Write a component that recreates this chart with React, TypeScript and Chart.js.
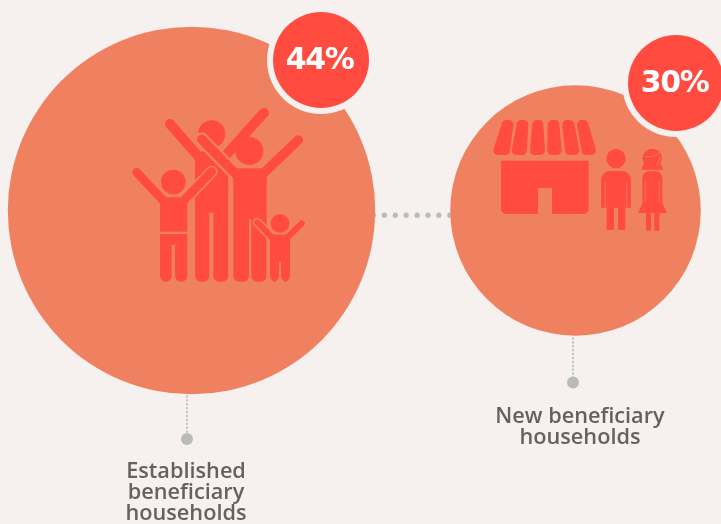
import React, { useEffect, useRef } from "react";
import { Chart, registerables } from "chart.js";

Chart.register(...registerables);

const categories = [["Established", "beneficiary", "households"], ["New beneficiary", "households"]];
const shareValues = [44, 30];
const percentLabels = ["44%", "30%"];
const groupPositions = [0, 1];

const BG = "#F6F0EE";
const BUBBLE = "#EF8160";
const RED = "#FF4B40";
const GREY = "#B9BBBB";
const TEXT = "#695F5D";
const PX_PER_GROUP = 384;
const PX_PER_POINT = 4.175;
const W = 721;
const H = 524;
const CX0 = 191.5;
const CY0 = 210.5;

const annotations = [
  { badge: [129.5, -150.5], line: [-4.5, 183, 228.5], textX: -5.5, textY: [261, 282.5, 303.5], font: 21.7 },
  { badge: [100.5, -127.5], line: [-2.5, 125, 172], textX: 4.5, textY: [206, 227], font: 21.7 },
];

type C = CanvasRenderingContext2D;

function dot(ctx: C, x: number, y: number, r: number) {
  ctx.beginPath();
  ctx.arc(x, y, r, 0, Math.PI * 2);
  ctx.fill();
}

function limb(ctx: C, x1: number, y1: number, x2: number, y2: number, w: number, color: string) {
  ctx.strokeStyle = color;
  ctx.lineWidth = w;
  ctx.lineCap = "round";
  ctx.beginPath();
  ctx.moveTo(x1, y1);
  ctx.lineTo(x2, y2);
  ctx.stroke();
}

function legs(ctx: C, l: number, r: number, gapL: number, gapR: number, top: number, crotch: number, bottom: number) {
  const rad = 17;
  ctx.beginPath();
  ctx.moveTo(l, top);
  ctx.lineTo(r, top);
  ctx.lineTo(r, bottom - rad);
  ctx.arcTo(r, bottom, r - rad, bottom, rad);
  ctx.arcTo(gapR, bottom, gapR, bottom - rad, rad);
  ctx.lineTo(gapR, crotch);
  ctx.lineTo(gapL, crotch);
  ctx.lineTo(gapL, bottom - rad);
  ctx.arcTo(gapL, bottom, gapL - rad, bottom, rad);
  ctx.arcTo(l, bottom, l, bottom - rad, rad);
  ctx.closePath();
  ctx.fill();
}

function drawFamily(ctx: C) {
  // tall parent behind
  ctx.fillStyle = RED;
  dot(ctx, 275, 132, 41);
  limb(ctx, 150, 102, 245, 210, 30, RED);
  limb(ctx, 432, 68, 305, 210, 30, RED);
  ctx.beginPath();
  ctx.moveTo(225, 205);
  ctx.lineTo(250, 180);
  ctx.lineTo(300, 180);
  ctx.lineTo(325, 205);
  ctx.lineTo(325, 300);
  ctx.lineTo(225, 300);
  ctx.fill();
  legs(ctx, 225, 325, 268, 280, 290, 368, 575);

  // front parent
  limb(ctx, 245, 148, 350, 255, 42, BUBBLE);
  ctx.fillStyle = BUBBLE;
  ctx.fillRect(326, 250, 14, 325);
  ctx.fillStyle = RED;
  dot(ctx, 388, 183, 42);
  limb(ctx, 245, 148, 350, 255, 28, RED);
  limb(ctx, 535, 150, 425, 255, 28, RED);
  ctx.fillStyle = RED;
  ctx.fillRect(340, 235, 100, 40);
  legs(ctx, 340, 440, 387, 394, 265, 388, 575);

  // older child
  limb(ctx, 275, 245, 195, 328, 36, BUBBLE);
  ctx.fillStyle = RED;
  dot(ctx, 160, 276, 37);
  limb(ctx, 50, 247, 128, 330, 26, RED);
  limb(ctx, 275, 245, 195, 328, 26, RED);
  ctx.fillStyle = RED;
  ctx.fillRect(120, 322, 82, 103);
  legs(ctx, 120, 202, 155, 165, 432, 465, 575);

  // toddler
  limb(ctx, 412, 397, 458, 445, 28, BUBBLE);
  ctx.fillStyle = BUBBLE;
  ctx.fillRect(440, 440, 10, 135);
  ctx.fillStyle = RED;
  dot(ctx, 480, 400, 28);
  limb(ctx, 412, 397, 458, 445, 18, RED);
  limb(ctx, 545, 400, 502, 442, 18, RED);
  ctx.fillStyle = RED;
  ctx.beginPath();
  ctx.rect(450, 434, 60, 40);
  ctx.fill();
  legs(ctx, 450, 510, 477, 483, 470, 515, 575);
}

const slatTop = [[65, 100], [110, 145], [157, 190], [203, 238], [247, 283], [291, 325]];
const slatBottom = [[40, 90], [95, 140], [150, 195], [202, 245], [255, 298], [305, 348]];

function drawShop(ctx: C) {
  ctx.fillStyle = RED;
  ctx.strokeStyle = RED;
  ctx.lineJoin = "round";
  ctx.lineWidth = 28;
  slatTop.forEach((t, i) => {
    const b = slatBottom[i];
    ctx.beginPath();
    ctx.moveTo(t[0] + 14, 284);
    ctx.lineTo(t[1] - 14, 284);
    ctx.lineTo(b[1] - 14, 361);
    ctx.lineTo(b[0] + 14, 361);
    ctx.closePath();
    ctx.fill();
    ctx.stroke();
  });
  // building
  ctx.beginPath();
  ctx.moveTo(63, 392);
  ctx.lineTo(326, 392);
  ctx.lineTo(326, 537);
  ctx.arcTo(326, 552, 311, 552, 15);
  ctx.lineTo(216, 552);
  ctx.lineTo(216, 474);
  ctx.lineTo(174, 474);
  ctx.lineTo(174, 552);
  ctx.lineTo(78, 552);
  ctx.arcTo(63, 552, 63, 537, 15);
  ctx.closePath();
  ctx.fill();

  // man
  dot(ctx, 408, 386, 29);
  ctx.beginPath();
  ctx.moveTo(363, 533);
  ctx.lineTo(363, 450);
  ctx.arcTo(363, 423, 390, 423, 27);
  ctx.lineTo(426, 423);
  ctx.arcTo(453, 423, 453, 450, 27);
  ctx.lineTo(453, 533);
  ctx.lineTo(436, 533);
  ctx.lineTo(436, 600);
  ctx.lineTo(414, 600);
  ctx.lineTo(414, 533);
  ctx.lineTo(402, 533);
  ctx.lineTo(402, 600);
  ctx.lineTo(380, 600);
  ctx.lineTo(380, 533);
  ctx.closePath();
  ctx.fill();
  limb(ctx, 376, 458, 376, 532, 2.5, BUBBLE);
  limb(ctx, 440, 458, 440, 532, 2.5, BUBBLE);

  // girl
  ctx.fillStyle = RED;
  dot(ctx, 517, 385, 29);
  ctx.beginPath();
  ctx.moveTo(490, 403);
  ctx.lineTo(484, 419);
  ctx.lineTo(550, 419);
  ctx.lineTo(544, 403);
  ctx.closePath();
  ctx.fill();
  ctx.beginPath();
  ctx.moveTo(487, 520);
  ctx.lineTo(487, 445);
  ctx.arcTo(487, 424, 508, 424, 20);
  ctx.lineTo(526, 424);
  ctx.arcTo(547, 424, 547, 445, 20);
  ctx.lineTo(547, 520);
  ctx.lineTo(561, 549);
  ctx.lineTo(538, 549);
  ctx.lineTo(538, 602);
  ctx.lineTo(523, 602);
  ctx.lineTo(523, 549);
  ctx.lineTo(513, 549);
  ctx.lineTo(513, 602);
  ctx.lineTo(498, 602);
  ctx.lineTo(498, 549);
  ctx.lineTo(474, 549);
  ctx.closePath();
  ctx.fill();
  limb(ctx, 496, 455, 496, 515, 2.5, BUBBLE);
  limb(ctx, 538, 455, 538, 515, 2.5, BUBBLE);
  ctx.strokeStyle = BUBBLE;
  ctx.lineWidth = 2.5;
  ctx.beginPath();
  ctx.arc(496, 375, 45, 0.1, 0.75);
  ctx.moveTo(496, 380);
  ctx.quadraticCurveTo(525, 385, 545, 362);
  ctx.stroke();
}

const overlay = {
  id: "overlay",
  beforeDatasetsDraw(chart: Chart) {
    const ctx = chart.ctx as C;
    const pts = chart.getDatasetMeta(0).data as any[];
    const [a, b] = [pts[0], pts[1]];
    // dotted link between the two circles, ends tucked under them
    ctx.save();
    ctx.fillStyle = GREY;
    const linkY = a.y + 4.7;
    for (let x = a.x + 182; x <= b.x - 125; x += 10.9) dot(ctx, x, linkY, 2.6);
    ctx.restore();
  },
  afterDatasetsDraw(chart: Chart) {
    const ctx = chart.ctx as C;
    const pts = chart.getDatasetMeta(0).data as any[];
    const [a, b] = [pts[0], pts[1]];
    ctx.save();

    // labels, leaders, badges
    pts.forEach((p, i) => {
      const an = annotations[i];
      ctx.fillStyle = GREY;
      const lx = p.x + an.line[0];
      for (let y = p.y + an.line[1] + 2; y < p.y + an.line[2] - 4; y += 3.9) ctx.fillRect(lx - 0.9, y, 1.8, 2);
      dot(ctx, lx, p.y + an.line[2], 6);

      ctx.fillStyle = BG;
      dot(ctx, p.x + an.badge[0], p.y + an.badge[1], 54);
      ctx.fillStyle = RED;
      dot(ctx, p.x + an.badge[0], p.y + an.badge[1], 48);

      ctx.fillStyle = "#FFFFFF";
      ctx.textAlign = "center";
      ctx.textBaseline = "middle";
      ctx.font = "700 30px 'DejaVu Sans'";
      (ctx as any).letterSpacing = "-1.4px";
      ctx.fillText(percentLabels[i], p.x + an.badge[0] - 1.5, p.y + an.badge[1] + 1);
      (ctx as any).letterSpacing = "0px";

      ctx.fillStyle = TEXT;
      ctx.font = `600 ${an.font}px 'Open Sans'`;
      categories[i].forEach((line, j) => {
        ctx.fillText(line, p.x + an.textX, p.y + an.textY[j]);
      });
    });

    // icons, drawn in 3x local units anchored to each circle
    ctx.save();
    ctx.translate(a.x - 71.5, a.y - 120.5);
    ctx.scale(1 / 3, 1 / 3);
    drawFamily(ctx);
    ctx.restore();

    ctx.save();
    ctx.translate(b.x - 95.5, b.y - 180.5);
    ctx.scale(1 / 3, 1 / 3);
    drawShop(ctx);
    ctx.restore();

    ctx.restore();
  },
};

export default function App() {
  const ref = useRef<HTMLCanvasElement>(null);
  useEffect(() => {
    const xMin = -CX0 / PX_PER_GROUP;
    const chart = new Chart(ref.current!, {
      type: "bubble",
      data: {
        datasets: [
          {
            label: "Share of households",
            data: groupPositions.map((x, i) => ({ x, y: 0, r: shareValues[i] * PX_PER_POINT })),
            backgroundColor: BUBBLE,
            borderWidth: 0,
            hoverBorderWidth: 0,
            clip: false as any,
          },
        ],
      },
      options: {
        responsive: false,
        animation: false,
        layout: { padding: 0, autoPadding: false },
        events: [],
        plugins: { legend: { display: false }, tooltip: { enabled: false } },
        scales: {
          x: { type: "linear", display: false, min: xMin, max: xMin + W / PX_PER_GROUP },
          y: { type: "linear", display: false, min: CY0 - H, max: CY0 },
        },
      },
      plugins: [overlay],
    });
    return () => chart.destroy();
  }, []);
  return (
    <>
      <style>{`html,body{margin:0;padding:0;background:${BG};overflow:hidden}`}</style>
      <canvas ref={ref} width={W} height={H} style={{ display: "block", width: W, height: H }} />
    </>
  );
}
